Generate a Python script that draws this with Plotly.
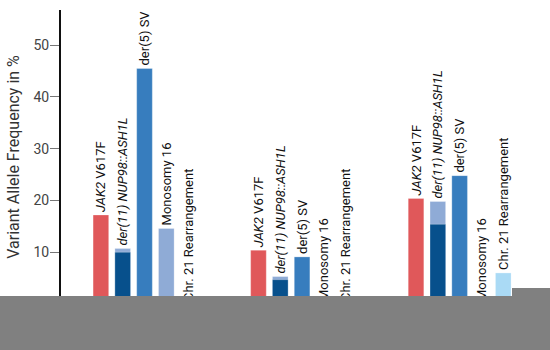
import plotly.graph_objects as go

# ---- data ----
groups = ["Sample 1", "Sample 2", "Sample 3"]
jak2 = [17.2, 10.4, 20.4]
der11_total = [10.7, 5.3, 19.8]
der11_main = [10.0, 4.7, 15.4]
der5 = [45.5, 9.1, 24.8]
mono16 = [14.6, 0, 0]
chr21 = [0, 0, 6.0]

lbl_jak2 = "<i>JAK2</i> V617F"
lbl_der11 = "<i>der(11) NUP98::ASH1L</i>"
lbl_der5 = "der(5) SV"
lbl_mono16 = "Monosomy 16"
lbl_chr21 = "Chr. 21 Rearrangement"
yticks = [0, 10, 20, 30, 40, 50]

FONT = "Roboto"
edge = dict(width=0.8, color="rgba(255,255,255,0.35)")
txtfont = dict(family=FONT, size=13, color="#111")


def bar(y, color, label, group, show_text=True):
    return go.Bar(
        x=groups, y=y, offsetgroup=group,
        marker=dict(color=color, line=edge),
        text=[label] * len(y) if show_text else None,
        textposition="outside", textangle=-90, constraintext="none",
        textfont=txtfont, cliponaxis=False,
        hoverinfo="skip", showlegend=False,
    )


fig = go.Figure()
fig.add_trace(bar(jak2, "#E0585A", lbl_jak2, "a"))
fig.add_trace(bar(der11_total, "#8FABD6", lbl_der11, "b"))
fig.add_trace(bar(der11_main, "#07508C", None, "b", show_text=False))
fig.add_trace(bar(der5, "#377DBE", lbl_der5, "c"))
fig.add_trace(bar(mono16, "#8FABD6", lbl_mono16, "d"))
fig.add_trace(bar(chr21, "#AADAF5", lbl_chr21, "e"))

L, R, T, B = 61, 10, 10, 46
W, H = 550, 350
pw, ph = W - L - R, H - T - B


def px_x(p):
    return (p - L) / pw


def px_y(p):
    return (H - B - p) / ph


fig.update_layout(
    width=W, height=H,
    margin=dict(l=L, r=R, t=T, b=B),
    barmode="group", bargap=0.308, bargroupgap=0.284,
    plot_bgcolor="white", paper_bgcolor="white",
    font=dict(family=FONT, color="#333"),
    xaxis=dict(showline=False, ticks="", showgrid=False, automargin=False,
               range=[-0.53, 2.51],
               tickfont=dict(size=13, color="#444")),
    yaxis=dict(range=[0, 56.8], tickvals=yticks, showgrid=False, zeroline=False,
               automargin=False,
               showline=True, linecolor="#111", linewidth=2,
               ticks="outside", ticklen=9, tickcolor="#777", tickwidth=1,
               ticklabelstandoff=-2,
               tickfont=dict(size=14, color="#444"),
               title=dict(text="Variant Allele Frequency in %",
                          font=dict(size=16, color="#333"), standoff=10)),
    shapes=[
        dict(type="rect", xref="paper", yref="paper", layer="above",
             x0=px_x(0), x1=px_x(W), y0=px_y(296), y1=px_y(H),
             fillcolor="#808080", line=dict(width=0)),
        dict(type="rect", xref="paper", yref="paper", layer="above",
             x0=px_x(512), x1=px_x(W), y0=px_y(288), y1=px_y(297),
             fillcolor="#808080", line=dict(width=0)),
    ],
)

fig.write_html("out.html",
               config={"displayModeBar": False},
               post_script="document.body.style.margin='0';"
                           "document.body.style.padding='0';")
